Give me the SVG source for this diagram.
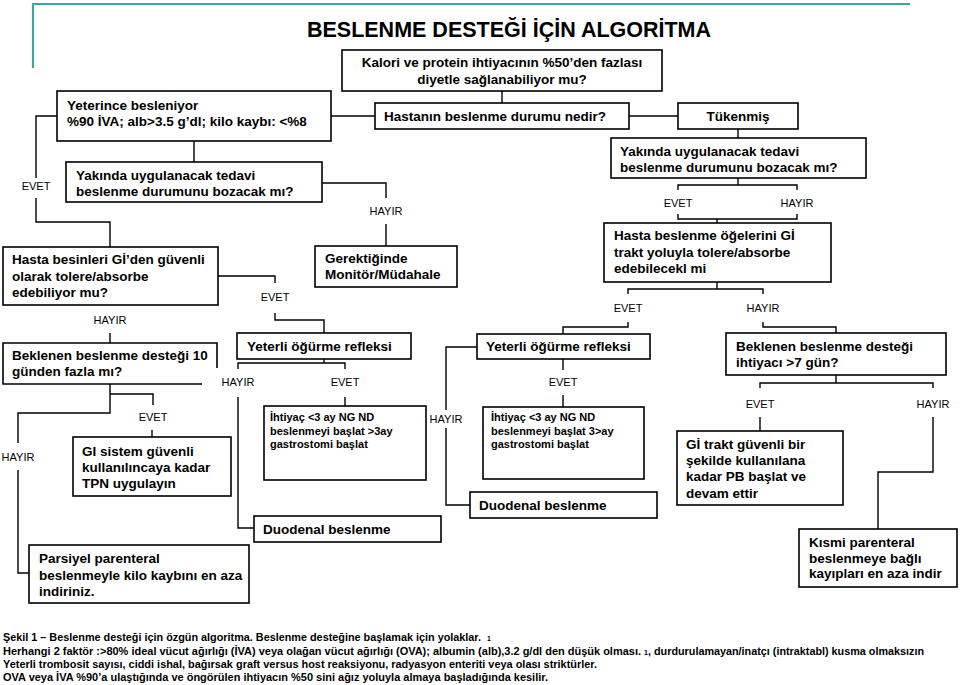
<svg xmlns="http://www.w3.org/2000/svg" width="960" height="685" viewBox="0 0 960 685">
<style>
.bx{fill:#fff;stroke:#000;stroke-width:1.6}
.t{font-family:"Liberation Sans",Arial,sans-serif;font-weight:bold;font-size:13.5px;fill:#000}
.sm{font-size:11px}
.lb{font-family:"Liberation Sans",Arial,sans-serif;font-size:11px;fill:#000;text-anchor:middle}
.c{fill:none;stroke:#000;stroke-width:1.4}
.cap{font-family:"Liberation Sans",Arial,sans-serif;font-weight:bold;font-size:11px;fill:#000}
</style>
<rect width="960" height="685" fill="#fff"/>
<path d="M33,68 V4 H910" fill="none" stroke="#3aa6a2" stroke-width="2.2"/>
<text x="509" y="37" text-anchor="middle" style="font-family:'Liberation Sans',Arial,sans-serif;font-weight:bold;font-size:21.5px">BESLENME DESTEĞİ İÇİN ALGORİTMA</text>

<g id="connectors">
<polyline class="c" points="502,91 502,103"/>
<polyline class="c" points="331,116 375,116"/>
<polyline class="c" points="629,116 678,116"/>
<polyline class="c" points="738,129 738,138"/>
<polyline class="c" points="738,178 738,185"/>
<polyline class="c" points="678,190 678,185 797,185 797,190"/>
<polyline class="c" points="678,214 678,219 797,219 797,214"/>
<polyline class="c" points="717,219 717,223"/>
<polyline class="c" points="717,282 717,289"/>
<polyline class="c" points="628,294 628,289 763,289 763,294"/>
<polyline class="c" points="628,322 628,327 563,327 563,334"/>
<polyline class="c" points="763,322 763,327 836,327 836,333"/>
<polyline class="c" points="477,347 446,347 446,410"/>
<polyline class="c" points="446,428 446,505 470,505"/>
<polyline class="c" points="563,359 563,370"/>
<polyline class="c" points="563,395 563,407"/>
<polyline class="c" points="836,375 836,383"/>
<polyline class="c" points="760,388 760,383 933,383 933,388"/>
<polyline class="c" points="760,417 760,431"/>
<polyline class="c" points="933,417 933,472 878,472 878,529"/>
<polyline class="c" points="194,141 194,162"/>
<polyline class="c" points="57,116 36,116 36,178"/>
<polyline class="c" points="36,198 36,222 110,222 110,247"/>
<polyline class="c" points="322,183 386,183 386,198"/>
<polyline class="c" points="386,224 386,246"/>
<polyline class="c" points="218,276 275,276 275,283"/>
<polyline class="c" points="275,313 275,320 324,320 324,333"/>
<polyline class="c" points="110,333 110,343"/>
<polyline class="c" points="324,359 324,363"/>
<polyline class="c" points="238,369 238,363 345,363 345,369"/>
<polyline class="c" points="345,397 345,406"/>
<polyline class="c" points="238,397 238,528 254,528"/>
<polyline class="c" points="110,384 110,413 18,413 18,443"/>
<polyline class="c" points="110,394 153,394 153,405"/>
<polyline class="c" points="152,430 152,437"/>
<polyline class="c" points="18,470 18,573 29,573"/>
</g>

<g id="labels">
<text class="lb" x="678" y="207">EVET</text>
<text class="lb" x="797" y="207">HAYIR</text>
<text class="lb" x="628" y="312">EVET</text>
<text class="lb" x="763" y="312">HAYIR</text>
<text class="lb" x="446" y="423">HAYIR</text>
<text class="lb" x="563" y="386">EVET</text>
<text class="lb" x="760" y="408">EVET</text>
<text class="lb" x="933" y="408">HAYIR</text>
<text class="lb" x="36" y="190">EVET</text>
<text class="lb" x="386" y="215">HAYIR</text>
<text class="lb" x="275" y="301">EVET</text>
<text class="lb" x="110" y="324">HAYIR</text>
<text class="lb" x="238" y="386">HAYIR</text>
<text class="lb" x="345" y="386">EVET</text>
<text class="lb" x="153" y="421">EVET</text>
<text class="lb" x="18" y="461">HAYIR</text>
</g>

<g id="n-kalori"><rect class="bx" x="342" y="50" width="320" height="41"/>
<text class="t" x="502" y="67" text-anchor="middle">Kalori ve protein ihtiyacının %50’den fazlası</text>
<text class="t" x="502" y="84" text-anchor="middle">diyetle sağlanabiliyor mu?</text></g>

<g id="n-yeterince"><rect class="bx" x="57" y="91" width="274" height="50"/>
<text class="t" x="67" y="110">Yeterince besleniyor</text>
<text class="t" x="67" y="126">%90 İVA; alb&gt;3.5 g’dl; kilo kaybı: &lt;%8</text></g>

<g id="n-hastanin"><rect class="bx" x="375" y="103" width="254" height="26"/>
<text class="t" x="384" y="121">Hastanın beslenme durumu nedir?</text></g>

<g id="n-tukenmis"><rect class="bx" x="678" y="103" width="120" height="26"/>
<text class="t" x="738" y="121" text-anchor="middle">Tükenmiş</text></g>

<g id="n-yakinda-r"><rect class="bx" x="611" y="138" width="255" height="40"/>
<text class="t" x="620" y="156">Yakında uygulanacak tedavi</text>
<text class="t" x="620" y="172">beslenme durumunu bozacak mı?</text></g>

<g id="n-yakinda-l"><rect class="bx" x="66" y="162" width="256" height="40"/>
<text class="t" x="76" y="180">Yakında uygulanacak tedavi</text>
<text class="t" x="76" y="196">beslenme durumunu bozacak mı?</text></g>

<g id="n-gerektiginde"><rect class="bx" x="315" y="246" width="142" height="41"/>
<text class="t" x="325" y="263">Gerektiğinde</text>
<text class="t" x="325" y="279">Monitör/Müdahale</text></g>

<g id="n-hasta-besin"><rect class="bx" x="3" y="247" width="215" height="58"/>
<text class="t" x="12" y="264">Hasta besinleri Gİ’den güvenli</text>
<text class="t" x="12" y="281">olarak tolere/absorbe</text>
<text class="t" x="12" y="297">edebiliyor mu?</text></g>

<g id="n-hasta-oge"><rect class="bx" x="604" y="223" width="227" height="59"/>
<text class="t" x="614" y="240">Hasta beslenme öğelerini Gİ</text>
<text class="t" x="614" y="257">trakt yoluyla tolere/absorbe</text>
<text class="t" x="614" y="273">edebilecekl mi</text></g>

<g id="n-beklenen-l"><path class="bx" d="M202,384 H3 V343 H217 V368"/>
<text class="t" x="12" y="360">Beklenen beslenme desteği 10</text>
<text class="t" x="12" y="376">günden fazla mı?</text></g>

<g id="n-yeterli-l"><rect class="bx" x="237" y="333" width="174" height="26"/>
<text class="t" x="247" y="351">Yeterli öğürme refleksi</text></g>

<g id="n-yeterli-r"><rect class="bx" x="477" y="334" width="173" height="25"/>
<text class="t" x="486" y="351">Yeterli öğürme refleksi</text></g>

<g id="n-beklenen-r"><rect class="bx" x="726" y="333" width="220" height="42"/>
<text class="t" x="736" y="351">Beklenen beslenme desteği</text>
<text class="t" x="736" y="367">ihtiyacı &gt;7 gün?</text></g>

<g id="n-ihtiyac-l"><rect class="bx" x="264" y="406" width="162" height="74"/>
<text class="t sm" x="270" y="421">İhtiyaç &lt;3 ay NG ND</text>
<text class="t sm" x="270" y="435">beslenmeyi başlat &gt;3ay</text>
<text class="t sm" x="270" y="448">gastrostomi başlat</text></g>

<g id="n-ihtiyac-r"><rect class="bx" x="483" y="407" width="161" height="72"/>
<text class="t sm" x="491" y="421">İhtiyaç &lt;3 ay NG ND</text>
<text class="t sm" x="491" y="435">beslenmeyi başlat 3&gt;ay</text>
<text class="t sm" x="491" y="448">gastrostomi başlat</text></g>

<g id="n-gi-tpn"><rect class="bx" x="73" y="437" width="158" height="59"/>
<text class="t" x="82" y="456">GI sistem güvenli</text>
<text class="t" x="82" y="472">kullanılıncaya kadar</text>
<text class="t" x="82" y="488">TPN uygulayın</text></g>

<g id="n-gi-pb"><rect class="bx" x="677" y="431" width="166" height="74"/>
<text class="t" x="686" y="449">Gİ trakt güvenli bir</text>
<text class="t" x="686" y="465">şekilde kullanılana</text>
<text class="t" x="686" y="481">kadar PB başlat ve</text>
<text class="t" x="686" y="498">devam ettir</text></g>

<g id="n-duodenal-l"><rect class="bx" x="254" y="516" width="187" height="26"/>
<text class="t" x="263" y="534">Duodenal beslenme</text></g>

<g id="n-duodenal-r"><rect class="bx" x="470" y="492" width="187" height="26"/>
<text class="t" x="479" y="510">Duodenal beslenme</text></g>

<g id="n-parsiyel"><rect class="bx" x="29" y="545" width="220" height="58"/>
<text class="t" x="39" y="563">Parsiyel parenteral</text>
<text class="t" x="39" y="580">beslenmeyle kilo kaybını en aza</text>
<text class="t" x="39" y="596">indiriniz.</text></g>

<g id="n-kismi"><rect class="bx" x="799" y="529" width="158" height="58"/>
<text class="t" x="809" y="547">Kısmi parenteral</text>
<text class="t" x="809" y="563">beslenmeye bağlı</text>
<text class="t" x="809" y="578">kayıpları en aza indir</text></g>

<g id="caption">
<text class="cap" x="3" y="641" textLength="478" lengthAdjust="spacingAndGlyphs">Şekil 1 – Beslenme desteği için özgün algoritma. Beslenme desteğine başlamak için yolaklar.</text>
<text class="cap" x="487" y="641" style="font-size:7px">1</text>
<text class="cap" x="3" y="655" textLength="638" lengthAdjust="spacingAndGlyphs">Herhangi 2 faktör :&gt;80%  ideal vücut ağırlığı (İVA) veya olağan vücut ağırlığı (OVA); albumin (alb),3.2 g/dl den düşük olması.</text>
<text class="cap" x="644" y="655" style="font-size:7px">1</text>
<text class="cap" x="648" y="655" textLength="276" lengthAdjust="spacingAndGlyphs">, durdurulamayan/inatçı (intraktabl) kusma olmaksızın</text>
<text class="cap" x="3" y="668" textLength="594" lengthAdjust="spacingAndGlyphs">Yeterli trombosit sayısı, ciddi ishal, bağırsak graft versus host reaksiyonu, radyasyon enteriti veya olası striktürler.</text>
<text class="cap" x="3" y="681" textLength="545" lengthAdjust="spacingAndGlyphs">OVA veya İVA %90’a ulaştığında ve öngörülen  ihtiyacın %50 sini ağız yoluyla almaya başladığında kesilir.</text>
</g>
</svg>
